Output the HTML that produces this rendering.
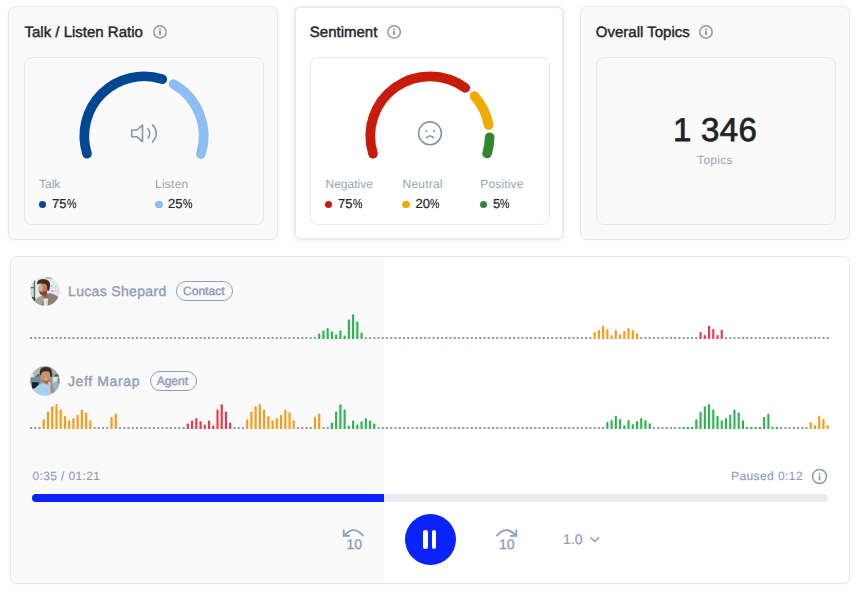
<!DOCTYPE html>
<html lang="en">
<head>
<meta charset="utf-8">
<title>Call analytics</title>
<style>
  html, body { margin: 0; padding: 0; }
  body {
    width: 856px; height: 592px; overflow: hidden; position: relative;
    background: #ffffff;
    font-family: "Liberation Sans", sans-serif;
    color: #22262b;
    text-rendering: geometricPrecision;
  }
  * { box-sizing: border-box; }
  .card {
    position: absolute; top: 6px; width: 270px; height: 234px;
    border: 1px solid #e6e8ef; border-radius: 7px; background: #fafafa;
    box-shadow: 0 1px 3px rgba(40, 50, 90, .04);
  }
  .card.c1 { left: 8px; }
  .card.c2 { left: 294px; background: #ffffff; border-color: #e7e9f0; box-shadow: inset 0 0 0 1px #eaecf2, 0 1px 4px rgba(40, 50, 90, .07); }
  .card.c3 { left: 580px; }
  .card h3 {
    position: absolute; left: 15.5px; top: 16px; margin: 0;
    font-size: 15px; line-height: 20px; font-weight: 400; white-space: nowrap;
    color: #22262b; -webkit-text-stroke: 0.42px #22262b;
  }
  .inner {
    position: absolute; left: 15px; top: 50px; width: 240px; height: 168px;
    border: 1px solid #e7e9f0; border-radius: 8px; background: inherit;
  }
  .c1 .inner, .c3 .inner { background: #fafafa; }
  .c2 .inner { background: #ffffff; }
  .card svg.g { position: absolute; left: 0; top: 0; }
  .lab {
    position: absolute; top: 169px; font-size: 12px; line-height: 16px; color: #99a4b8; white-space: nowrap;
  }
  .val {
    position: absolute; top: 188px; font-size: 13px; line-height: 18px; color: #22262b; white-space: nowrap;
    -webkit-text-stroke: 0.2px #22262b; letter-spacing: 0.05px;
  }
  .val b { font-weight: 400; display: inline-block; transform: scaleX(0.82); transform-origin: 0 50%; }
  .dot { position: absolute; top: 193.5px; width: 7.6px; height: 7.6px; border-radius: 50%; }
  .big {
    position: absolute; left: 0; width: 268px; top: 103px; text-align: center;
    font-size: 33px; line-height: 40px; color: #1f2327; -webkit-text-stroke: 0.75px #1f2327; white-space: pre; letter-spacing: 0.3px;
  }
  .sub {
    position: absolute; left: 0; width: 268px; top: 144.7px; text-align: center; letter-spacing: 0.3px;
    font-size: 12px; line-height: 16px; color: #99a4b8;
  }

  .player {
    position: absolute; left: 10px; top: 256px; width: 840px; height: 328px;
    border: 1px solid #e6e8ef; border-radius: 7px; background: #ffffff; overflow: hidden;
    box-shadow: 0 1px 3px rgba(40, 50, 90, .04);
  }
  .played { position: absolute; left: 0; top: 0; width: 373px; height: 326px; background: #fafafa; }
  .who { position: absolute; left: 0; height: 30px; }
  .who .name {
    position: absolute; left: 57px; top: 5.4px; font-size: 14px; line-height: 20px; white-space: nowrap;
    color: #8f9db8; -webkit-text-stroke: 0.4px #8f9db8;
  }
  .who .tag {
    position: absolute; top: 5px; height: 20px; border: 1px solid #8f9db8; border-radius: 10px;
    font-size: 12px; line-height: 18px; text-align: center; color: #8f9db8; -webkit-text-stroke: 0.45px #8f9db8;
    white-space: nowrap;
  }
  .who svg { position: absolute; left: 19px; top: 0; }
  .wave { position: absolute; left: -11px; }
  .time { position: absolute; top: 211px; font-size: 12px; line-height: 16px; color: #8f9db8; white-space: nowrap; -webkit-text-stroke: 0.15px #8f9db8; }
  .track { position: absolute; left: 21px; top: 237px; width: 796px; height: 8.4px; border-radius: 4.2px; background: #e9ebef; overflow: hidden; }
  .track b { position: absolute; left: 0; top: 0; height: 100%; width: 352px; background: #0a22fb; display: block; }
  .ctl { position: absolute; }
  .pause { left: 393.5px; top: 256.5px; width: 51px; height: 51px; border-radius: 50%; background: #0a22fb; }
  .pause i { position: absolute; top: 16px; width: 4.2px; height: 19px; border-radius: 2.1px; background: #fff; display: block; }
  .speed { left: 552px; top: 272px; font-size: 14px; line-height: 20px; color: #8f9db8; -webkit-text-stroke: 0.2px #8f9db8; }
</style>
</head>
<body>

<section class="card c1">
  <h3>Talk / Listen Ratio</h3>
  <svg class="g" width="268" height="232" viewBox="9 7 268 232" fill="none">
    <circle cx="160" cy="31.9" r="6.2" stroke="#8b97ad" stroke-width="1.5"/>
    <rect x="159" y="28.7" width="2" height="1.3" fill="#8b97ad"/>
    <rect x="159" y="30.9" width="2" height="3.9" fill="#8b97ad"/>
  </svg>
  <div class="inner"></div>
  <svg class="g" width="268" height="232" viewBox="9 7 268 232" fill="none">
    <path d="M86.97 153.65 A59.7 59.7 0 0 1 162.25 79.16" stroke="#024794" stroke-width="9.7" stroke-linecap="round"/>
    <path d="M173.58 84.14 A59.7 59.7 0 0 1 200.91 154.05" stroke="#8cbdf3" stroke-width="9.7" stroke-linecap="round"/>
    <g stroke="#8794a8" stroke-width="1.6" stroke-linejoin="round">
      <path d="M131.7 130h5.3l5.5-5v16.8l-5.5-5h-5.3z"/>
      <path d="M148 128.7A7.2 7.2 0 0 1 148 138" stroke-linecap="round"/>
      <path d="M152.5 124.8A11.7 11.7 0 0 1 152.5 141.9" stroke-linecap="round"/>
    </g>
  </svg>
  <span class="lab" style="left:30px">Talk</span>
  <i class="dot" style="left:29.6px;background:#024794"></i>
  <span class="val" style="left:43px">75<b>%</b></span>
  <span class="lab" style="left:146px;letter-spacing:0.25px">Listen</span>
  <i class="dot" style="left:146.1px;background:#8cbdf3"></i>
  <span class="val" style="left:159px">25<b>%</b></span>
</section>

<section class="card c2">
  <h3 style="left:14.8px">Sentiment</h3>
  <svg class="g" width="268" height="232" viewBox="295 7 268 232" fill="none">
    <circle cx="394.1" cy="31.9" r="6.2" stroke="#8b97ad" stroke-width="1.5"/>
    <rect x="393.1" y="28.7" width="2" height="1.3" fill="#8b97ad"/>
    <rect x="393.1" y="30.9" width="2" height="3.9" fill="#8b97ad"/>
  </svg>
  <div class="inner"></div>
  <svg class="g" width="268" height="232" viewBox="295 7 268 232" fill="none">
    <path d="M372.97 153.65 A59.7 59.7 0 0 1 465.26 87.82" stroke="#c91b0a" stroke-width="9.7" stroke-linecap="round"/>
    <path d="M474.44 96.13 A59.7 59.7 0 0 1 488.66 124.92" stroke="#f0ab06" stroke-width="9.7" stroke-linecap="round"/>
    <path d="M489.69 137.25 A59.7 59.7 0 0 1 487.12 153.35" stroke="#33862c" stroke-width="9.7" stroke-linecap="round"/>
    <g stroke="#8794a8" stroke-width="1.6">
      <circle cx="430" cy="133.3" r="11.4"/>
      <path d="M426.6 137.6q3.4-3.2 6.8 0" stroke-linecap="round"/>
    </g>
    <rect x="425.4" y="130.1" width="1.8" height="1.8" fill="#8996a9"/>
    <rect x="433" y="130.1" width="1.8" height="1.8" fill="#8996a9"/>
  </svg>
  <span class="lab" style="left:30.5px">Negative</span>
  <i class="dot" style="left:29.9px;background:#c91b0a"></i>
  <span class="val" style="left:43px">75<b>%</b></span>
  <span class="lab" style="left:107.5px;letter-spacing:0.22px">Neutral</span>
  <i class="dot" style="left:107.2px;background:#f0ab06"></i>
  <span class="val" style="left:120.5px">20<b>%</b></span>
  <span class="lab" style="left:185.3px;letter-spacing:0.16px">Positive</span>
  <i class="dot" style="left:184.7px;background:#33862c"></i>
  <span class="val" style="left:198px">5<b>%</b></span>
</section>

<section class="card c3">
  <h3 style="left:14.8px">Overall Topics</h3>
  <svg class="g" width="268" height="232" viewBox="581 7 268 232" fill="none">
    <circle cx="706" cy="31.9" r="6.2" stroke="#8b97ad" stroke-width="1.5"/>
    <rect x="705" y="28.7" width="2" height="1.3" fill="#8b97ad"/>
    <rect x="705" y="30.9" width="2" height="3.9" fill="#8b97ad"/>
  </svg>
  <div class="inner"></div>
  <div class="big">1 346</div>
  <div class="sub">Topics</div>
</section>

<section class="player">
  <div class="played"></div>

  <div class="who" style="top:19px">
    <svg width="30" height="30" viewBox="0 0 30 30">
      <defs>
        <clipPath id="cp1"><circle cx="15" cy="15" r="14.7"/></clipPath>
        <filter id="bl1" x="-10%" y="-10%" width="120%" height="120%"><feGaussianBlur stdDeviation="0.55"/></filter>
      </defs>
      <g clip-path="url(#cp1)"><g filter="url(#bl1)">
        <rect x="-2" y="-2" width="34" height="34" fill="#e2eaf1"/>
        <rect x="16" y="1.2" width="7" height="1.8" fill="#a9beb9"/>
        <rect x="20.6" y="9" width="1.6" height="1.6" fill="#86c6c2"/>
        <rect x="24.8" y="9.8" width="1.6" height="1.6" fill="#9bd0cc"/>
        <rect x="24.8" y="14" width="1.6" height="1.6" fill="#a5d4d0"/>
        <rect x="21.4" y="14" width="1.8" height="1.8" fill="#d792ad"/>
        <rect x="27.6" y="11" width="3" height="8" fill="#f1d6d6"/>
        <rect x="-1" y="4" width="5.2" height="19" fill="#c7d6da"/>
        <rect x="3.9" y="4" width="1.2" height="19" fill="#4f686a"/>
        <rect x="-1" y="11.1" width="5" height="1.2" fill="#4f686a"/>
        <ellipse cx="3.4" cy="23.2" rx="2.2" ry="2.4" fill="#2f6b2c"/>
        <path d="M4 32 L5.5 24.4 Q8 21 12.6 19.8 L16 21 L19 16.8 Q24 18 27.8 20.6 L31 32 Z" fill="#8d7f77"/>
        <path d="M5.5 24.4 Q8 21 12.6 19.8 L14 23 L10 31 L4 31 Z" fill="#aca19a"/>
        <path d="M13.4 22.6 L18 22.2 L17.6 30 L14 30 Z" fill="#e9dfd8"/>
        <path d="M13.6 18.6 L17.6 17 L17.8 21.6 L14.6 22.4 Z" fill="#9a5a3e"/>
        <ellipse cx="12.8" cy="13.2" rx="4.3" ry="6.1" fill="#bf7d5d"/>
        <ellipse cx="10.8" cy="11.6" rx="2.2" ry="3.6" fill="#dba888"/>
        <path d="M9.6 15.6 Q12 17 16.8 14.6 L17 17.5 Q14 21.5 10.8 18.8 Z" fill="#7a4530"/>
        <path d="M7.1 8.4 Q6.6 3.2 13 3 Q20.4 3 20 9.5 Q19.9 13.5 18.6 15 Q17.4 15.4 17 14 Q17.6 9.8 15.2 8 Q11 7 7.1 8.4 Z" fill="#46291f"/>
      </g></g>
    </svg>
    <span class="name" style="letter-spacing:0.34px">Lucas Shepard</span>
    <span class="tag" style="left:165.3px;width:56.5px;padding-right:1.5px">Contact</span>
  </div>
  <svg class="wave" style="top:42px" width="856" height="42" viewBox="0 299 856 42">
<defs><clipPath id="wc339"><rect x="0" y="299" width="856" height="40"/></clipPath></defs>
<g fill="#8d9bb7"><rect x="30.00" y="337.00" width="2.1" height="2"/><rect x="34.24" y="337.00" width="2.1" height="2"/><rect x="38.48" y="337.00" width="2.1" height="2"/><rect x="42.71" y="337.00" width="2.1" height="2"/><rect x="46.95" y="337.00" width="2.1" height="2"/><rect x="51.19" y="337.00" width="2.1" height="2"/><rect x="55.42" y="337.00" width="2.1" height="2"/><rect x="59.66" y="337.00" width="2.1" height="2"/><rect x="63.90" y="337.00" width="2.1" height="2"/><rect x="68.14" y="337.00" width="2.1" height="2"/><rect x="72.38" y="337.00" width="2.1" height="2"/><rect x="76.61" y="337.00" width="2.1" height="2"/><rect x="80.85" y="337.00" width="2.1" height="2"/><rect x="85.09" y="337.00" width="2.1" height="2"/><rect x="89.32" y="337.00" width="2.1" height="2"/><rect x="93.56" y="337.00" width="2.1" height="2"/><rect x="97.80" y="337.00" width="2.1" height="2"/><rect x="102.04" y="337.00" width="2.1" height="2"/><rect x="106.27" y="337.00" width="2.1" height="2"/><rect x="110.51" y="337.00" width="2.1" height="2"/><rect x="114.75" y="337.00" width="2.1" height="2"/><rect x="118.99" y="337.00" width="2.1" height="2"/><rect x="123.22" y="337.00" width="2.1" height="2"/><rect x="127.46" y="337.00" width="2.1" height="2"/><rect x="131.70" y="337.00" width="2.1" height="2"/><rect x="135.94" y="337.00" width="2.1" height="2"/><rect x="140.18" y="337.00" width="2.1" height="2"/><rect x="144.41" y="337.00" width="2.1" height="2"/><rect x="148.65" y="337.00" width="2.1" height="2"/><rect x="152.89" y="337.00" width="2.1" height="2"/><rect x="157.12" y="337.00" width="2.1" height="2"/><rect x="161.36" y="337.00" width="2.1" height="2"/><rect x="165.60" y="337.00" width="2.1" height="2"/><rect x="169.84" y="337.00" width="2.1" height="2"/><rect x="174.07" y="337.00" width="2.1" height="2"/><rect x="178.31" y="337.00" width="2.1" height="2"/><rect x="182.55" y="337.00" width="2.1" height="2"/><rect x="186.79" y="337.00" width="2.1" height="2"/><rect x="191.03" y="337.00" width="2.1" height="2"/><rect x="195.26" y="337.00" width="2.1" height="2"/><rect x="199.50" y="337.00" width="2.1" height="2"/><rect x="203.74" y="337.00" width="2.1" height="2"/><rect x="207.97" y="337.00" width="2.1" height="2"/><rect x="212.21" y="337.00" width="2.1" height="2"/><rect x="216.45" y="337.00" width="2.1" height="2"/><rect x="220.69" y="337.00" width="2.1" height="2"/><rect x="224.92" y="337.00" width="2.1" height="2"/><rect x="229.16" y="337.00" width="2.1" height="2"/><rect x="233.40" y="337.00" width="2.1" height="2"/><rect x="237.64" y="337.00" width="2.1" height="2"/><rect x="241.88" y="337.00" width="2.1" height="2"/><rect x="246.11" y="337.00" width="2.1" height="2"/><rect x="250.35" y="337.00" width="2.1" height="2"/><rect x="254.59" y="337.00" width="2.1" height="2"/><rect x="258.82" y="337.00" width="2.1" height="2"/><rect x="263.06" y="337.00" width="2.1" height="2"/><rect x="267.30" y="337.00" width="2.1" height="2"/><rect x="271.54" y="337.00" width="2.1" height="2"/><rect x="275.77" y="337.00" width="2.1" height="2"/><rect x="280.01" y="337.00" width="2.1" height="2"/><rect x="284.25" y="337.00" width="2.1" height="2"/><rect x="288.49" y="337.00" width="2.1" height="2"/><rect x="292.72" y="337.00" width="2.1" height="2"/><rect x="296.96" y="337.00" width="2.1" height="2"/><rect x="301.20" y="337.00" width="2.1" height="2"/><rect x="305.44" y="337.00" width="2.1" height="2"/><rect x="309.68" y="337.00" width="2.1" height="2"/><rect x="313.91" y="337.00" width="2.1" height="2"/><rect x="364.76" y="337.00" width="2.1" height="2"/><rect x="369.00" y="337.00" width="2.1" height="2"/><rect x="373.24" y="337.00" width="2.1" height="2"/><rect x="377.47" y="337.00" width="2.1" height="2"/><rect x="381.71" y="337.00" width="2.1" height="2"/><rect x="385.95" y="337.00" width="2.1" height="2"/><rect x="390.19" y="337.00" width="2.1" height="2"/><rect x="394.43" y="337.00" width="2.1" height="2"/><rect x="398.66" y="337.00" width="2.1" height="2"/><rect x="402.90" y="337.00" width="2.1" height="2"/><rect x="407.14" y="337.00" width="2.1" height="2"/><rect x="411.38" y="337.00" width="2.1" height="2"/><rect x="415.61" y="337.00" width="2.1" height="2"/><rect x="419.85" y="337.00" width="2.1" height="2"/><rect x="424.09" y="337.00" width="2.1" height="2"/><rect x="428.32" y="337.00" width="2.1" height="2"/><rect x="432.56" y="337.00" width="2.1" height="2"/><rect x="436.80" y="337.00" width="2.1" height="2"/><rect x="441.04" y="337.00" width="2.1" height="2"/><rect x="445.27" y="337.00" width="2.1" height="2"/><rect x="449.51" y="337.00" width="2.1" height="2"/><rect x="453.75" y="337.00" width="2.1" height="2"/><rect x="457.99" y="337.00" width="2.1" height="2"/><rect x="462.22" y="337.00" width="2.1" height="2"/><rect x="466.46" y="337.00" width="2.1" height="2"/><rect x="470.70" y="337.00" width="2.1" height="2"/><rect x="474.94" y="337.00" width="2.1" height="2"/><rect x="479.17" y="337.00" width="2.1" height="2"/><rect x="483.41" y="337.00" width="2.1" height="2"/><rect x="487.65" y="337.00" width="2.1" height="2"/><rect x="491.89" y="337.00" width="2.1" height="2"/><rect x="496.12" y="337.00" width="2.1" height="2"/><rect x="500.36" y="337.00" width="2.1" height="2"/><rect x="504.60" y="337.00" width="2.1" height="2"/><rect x="508.84" y="337.00" width="2.1" height="2"/><rect x="513.08" y="337.00" width="2.1" height="2"/><rect x="517.31" y="337.00" width="2.1" height="2"/><rect x="521.55" y="337.00" width="2.1" height="2"/><rect x="525.79" y="337.00" width="2.1" height="2"/><rect x="530.02" y="337.00" width="2.1" height="2"/><rect x="534.26" y="337.00" width="2.1" height="2"/><rect x="538.50" y="337.00" width="2.1" height="2"/><rect x="542.74" y="337.00" width="2.1" height="2"/><rect x="546.98" y="337.00" width="2.1" height="2"/><rect x="551.21" y="337.00" width="2.1" height="2"/><rect x="555.45" y="337.00" width="2.1" height="2"/><rect x="559.69" y="337.00" width="2.1" height="2"/><rect x="563.92" y="337.00" width="2.1" height="2"/><rect x="568.16" y="337.00" width="2.1" height="2"/><rect x="572.40" y="337.00" width="2.1" height="2"/><rect x="576.64" y="337.00" width="2.1" height="2"/><rect x="580.88" y="337.00" width="2.1" height="2"/><rect x="585.11" y="337.00" width="2.1" height="2"/><rect x="589.35" y="337.00" width="2.1" height="2"/><rect x="640.20" y="337.00" width="2.1" height="2"/><rect x="644.44" y="337.00" width="2.1" height="2"/><rect x="648.67" y="337.00" width="2.1" height="2"/><rect x="652.91" y="337.00" width="2.1" height="2"/><rect x="657.15" y="337.00" width="2.1" height="2"/><rect x="661.39" y="337.00" width="2.1" height="2"/><rect x="665.62" y="337.00" width="2.1" height="2"/><rect x="669.86" y="337.00" width="2.1" height="2"/><rect x="674.10" y="337.00" width="2.1" height="2"/><rect x="678.34" y="337.00" width="2.1" height="2"/><rect x="682.57" y="337.00" width="2.1" height="2"/><rect x="686.81" y="337.00" width="2.1" height="2"/><rect x="691.05" y="337.00" width="2.1" height="2"/><rect x="695.29" y="337.00" width="2.1" height="2"/><rect x="724.95" y="337.00" width="2.1" height="2"/><rect x="729.19" y="337.00" width="2.1" height="2"/><rect x="733.42" y="337.00" width="2.1" height="2"/><rect x="737.66" y="337.00" width="2.1" height="2"/><rect x="741.90" y="337.00" width="2.1" height="2"/><rect x="746.14" y="337.00" width="2.1" height="2"/><rect x="750.38" y="337.00" width="2.1" height="2"/><rect x="754.61" y="337.00" width="2.1" height="2"/><rect x="758.85" y="337.00" width="2.1" height="2"/><rect x="763.09" y="337.00" width="2.1" height="2"/><rect x="767.32" y="337.00" width="2.1" height="2"/><rect x="771.56" y="337.00" width="2.1" height="2"/><rect x="775.80" y="337.00" width="2.1" height="2"/><rect x="780.04" y="337.00" width="2.1" height="2"/><rect x="784.27" y="337.00" width="2.1" height="2"/><rect x="788.51" y="337.00" width="2.1" height="2"/><rect x="792.75" y="337.00" width="2.1" height="2"/><rect x="796.99" y="337.00" width="2.1" height="2"/><rect x="801.23" y="337.00" width="2.1" height="2"/><rect x="805.46" y="337.00" width="2.1" height="2"/><rect x="809.70" y="337.00" width="2.1" height="2"/><rect x="813.94" y="337.00" width="2.1" height="2"/><rect x="818.17" y="337.00" width="2.1" height="2"/><rect x="822.41" y="337.00" width="2.1" height="2"/><rect x="826.65" y="337.00" width="2.1" height="2"/></g>
<g clip-path="url(#wc339)">
<g fill="#27b54c"><rect x="318.15" y="333.40" width="2.1" height="6.50" rx="0.9"/><rect x="322.39" y="330.40" width="2.1" height="9.50" rx="0.9"/><rect x="326.62" y="328.00" width="2.1" height="11.90" rx="0.9"/><rect x="330.86" y="331.30" width="2.1" height="8.60" rx="0.9"/><rect x="335.10" y="334.50" width="2.1" height="5.40" rx="0.9"/><rect x="339.34" y="330.40" width="2.1" height="9.50" rx="0.9"/><rect x="343.57" y="335.50" width="2.1" height="4.40" rx="0.9"/><rect x="347.81" y="319.60" width="2.1" height="20.30" rx="0.9"/><rect x="352.05" y="314.30" width="2.1" height="25.60" rx="0.9"/><rect x="356.29" y="321.60" width="2.1" height="18.30" rx="0.9"/><rect x="360.52" y="332.50" width="2.1" height="7.40" rx="0.9"/></g>
<g fill="#ff9711"><rect x="593.59" y="332.00" width="2.1" height="7.90" rx="0.9"/><rect x="597.82" y="330.00" width="2.1" height="9.90" rx="0.9"/><rect x="602.06" y="325.70" width="2.1" height="14.20" rx="0.9"/><rect x="606.30" y="329.00" width="2.1" height="10.90" rx="0.9"/><rect x="610.54" y="335.20" width="2.1" height="4.70" rx="0.9"/><rect x="614.77" y="330.00" width="2.1" height="9.90" rx="0.9"/><rect x="619.01" y="334.20" width="2.1" height="5.70" rx="0.9"/><rect x="623.25" y="331.00" width="2.1" height="8.90" rx="0.9"/><rect x="627.49" y="327.90" width="2.1" height="12.00" rx="0.9"/><rect x="631.73" y="330.00" width="2.1" height="9.90" rx="0.9"/><rect x="635.96" y="333.20" width="2.1" height="6.70" rx="0.9"/></g>
<g fill="#fb3047"><rect x="699.52" y="332.00" width="2.1" height="7.90" rx="0.9"/><rect x="703.76" y="335.00" width="2.1" height="4.90" rx="0.9"/><rect x="708.00" y="325.70" width="2.1" height="14.20" rx="0.9"/><rect x="712.24" y="328.90" width="2.1" height="11.00" rx="0.9"/><rect x="716.48" y="335.00" width="2.1" height="4.90" rx="0.9"/><rect x="720.71" y="329.70" width="2.1" height="10.20" rx="0.9"/></g>
</g>
  </svg>

  <div class="who" style="top:109px">
    <svg width="30" height="30" viewBox="0 0 30 30" style="top:-0.3px">
      <defs>
        <clipPath id="cp2"><circle cx="15" cy="15" r="14.7"/></clipPath>
        <filter id="bl2" x="-10%" y="-10%" width="120%" height="120%"><feGaussianBlur stdDeviation="0.55"/></filter>
      </defs>
      <g clip-path="url(#cp2)"><g filter="url(#bl2)">
        <rect x="-2" y="-2" width="34" height="34" fill="#959a93"/>
        <rect x="-2" y="-2" width="12" height="11" fill="#b4b7af"/>
        <rect x="22" y="-2" width="10" height="12" fill="#a7aba4"/>
        <rect x="-1" y="11.5" width="11.5" height="7" fill="#6d8ca3"/>
        <rect x="0.4" y="8.2" width="4.2" height="3" fill="#c5dde8"/>
        <rect x="5" y="10" width="5" height="1.2" fill="#a06a3a"/>
        <rect x="7.4" y="8.2" width="2" height="1.8" fill="#3a5a38"/>
        <rect x="2" y="16.2" width="6.6" height="6.2" fill="#1f2228"/>
        <rect x="22.6" y="11" width="5.4" height="4.8" fill="#cfe6e4"/>
        <rect x="24.8" y="8.4" width="3.6" height="2" fill="#2f5a3c"/>
        <rect x="27.4" y="12" width="4" height="5" fill="#7f8a8c"/>
        <path d="M2 32 L3.9 23.3 Q8 18.5 14.7 16.3 L22.8 15.7 Q27 16.5 29.5 18.4 L31 32 Z" fill="#a9d0ec"/>
        <path d="M23 17 Q27 17 29.5 18.4 L30 27 L24 27 Z" fill="#8ab8dc"/>
        <path d="M14.5 15 L18 15 L18.2 18.4 L14.4 18 Z" fill="#b07850"/>
        <ellipse cx="15.6" cy="10.2" rx="4.5" ry="5.7" fill="#c99070"/>
        <path d="M12 13.2 Q15.5 17.5 19.4 13.4 L19 15 Q15.6 17.8 12.4 15 Z" fill="#8a5a40"/>
        <rect x="14.6" y="12.4" width="2.4" height="0.9" fill="#f0dcd0"/>
        <path d="M9.6 8.8 Q9 1 16 1 Q22.4 1.2 21.8 7.5 Q21.7 10.5 20.6 11 Q20.4 6.8 18.6 5.6 Q14.5 4.4 11.8 6.6 Q11 8.6 10.8 9.4 Z" fill="#3a2a20"/>
        <rect x="20.3" y="6.5" width="2" height="4.4" rx="0.9" fill="#2a3038"/>
        <path d="M18.5 13.5 Q19.5 12.3 22 12.6 L22.4 17 L24.4 26.5 L20.8 27 L20.4 17.6 Z" fill="#c08560"/>
      </g></g>
    </svg>
    <span class="name" style="letter-spacing:0.62px">Jeff Marap</span>
    <span class="tag" style="left:139.4px;width:46.3px;padding-right:2.4px">Agent</span>
  </div>
  <svg class="wave" style="top:132px" width="856" height="42" viewBox="0 389 856 42">
<defs><clipPath id="wc429"><rect x="0" y="389" width="856" height="40"/></clipPath></defs>
<g fill="#8d9bb7"><rect x="30.00" y="427.00" width="2.1" height="2"/><rect x="34.24" y="427.00" width="2.1" height="2"/><rect x="38.48" y="427.00" width="2.1" height="2"/><rect x="93.56" y="427.00" width="2.1" height="2"/><rect x="97.80" y="427.00" width="2.1" height="2"/><rect x="102.04" y="427.00" width="2.1" height="2"/><rect x="106.27" y="427.00" width="2.1" height="2"/><rect x="118.99" y="427.00" width="2.1" height="2"/><rect x="123.22" y="427.00" width="2.1" height="2"/><rect x="127.46" y="427.00" width="2.1" height="2"/><rect x="131.70" y="427.00" width="2.1" height="2"/><rect x="135.94" y="427.00" width="2.1" height="2"/><rect x="140.18" y="427.00" width="2.1" height="2"/><rect x="144.41" y="427.00" width="2.1" height="2"/><rect x="148.65" y="427.00" width="2.1" height="2"/><rect x="152.89" y="427.00" width="2.1" height="2"/><rect x="157.12" y="427.00" width="2.1" height="2"/><rect x="161.36" y="427.00" width="2.1" height="2"/><rect x="165.60" y="427.00" width="2.1" height="2"/><rect x="169.84" y="427.00" width="2.1" height="2"/><rect x="174.07" y="427.00" width="2.1" height="2"/><rect x="178.31" y="427.00" width="2.1" height="2"/><rect x="182.55" y="427.00" width="2.1" height="2"/><rect x="233.40" y="427.00" width="2.1" height="2"/><rect x="237.64" y="427.00" width="2.1" height="2"/><rect x="241.88" y="427.00" width="2.1" height="2"/><rect x="296.96" y="427.00" width="2.1" height="2"/><rect x="301.20" y="427.00" width="2.1" height="2"/><rect x="305.44" y="427.00" width="2.1" height="2"/><rect x="309.68" y="427.00" width="2.1" height="2"/><rect x="322.39" y="427.00" width="2.1" height="2"/><rect x="326.62" y="427.00" width="2.1" height="2"/><rect x="377.47" y="427.00" width="2.1" height="2"/><rect x="381.71" y="427.00" width="2.1" height="2"/><rect x="385.95" y="427.00" width="2.1" height="2"/><rect x="390.19" y="427.00" width="2.1" height="2"/><rect x="394.43" y="427.00" width="2.1" height="2"/><rect x="398.66" y="427.00" width="2.1" height="2"/><rect x="402.90" y="427.00" width="2.1" height="2"/><rect x="407.14" y="427.00" width="2.1" height="2"/><rect x="411.38" y="427.00" width="2.1" height="2"/><rect x="415.61" y="427.00" width="2.1" height="2"/><rect x="419.85" y="427.00" width="2.1" height="2"/><rect x="424.09" y="427.00" width="2.1" height="2"/><rect x="428.32" y="427.00" width="2.1" height="2"/><rect x="432.56" y="427.00" width="2.1" height="2"/><rect x="436.80" y="427.00" width="2.1" height="2"/><rect x="441.04" y="427.00" width="2.1" height="2"/><rect x="445.27" y="427.00" width="2.1" height="2"/><rect x="449.51" y="427.00" width="2.1" height="2"/><rect x="453.75" y="427.00" width="2.1" height="2"/><rect x="457.99" y="427.00" width="2.1" height="2"/><rect x="462.22" y="427.00" width="2.1" height="2"/><rect x="466.46" y="427.00" width="2.1" height="2"/><rect x="470.70" y="427.00" width="2.1" height="2"/><rect x="474.94" y="427.00" width="2.1" height="2"/><rect x="479.17" y="427.00" width="2.1" height="2"/><rect x="483.41" y="427.00" width="2.1" height="2"/><rect x="487.65" y="427.00" width="2.1" height="2"/><rect x="491.89" y="427.00" width="2.1" height="2"/><rect x="496.12" y="427.00" width="2.1" height="2"/><rect x="500.36" y="427.00" width="2.1" height="2"/><rect x="504.60" y="427.00" width="2.1" height="2"/><rect x="508.84" y="427.00" width="2.1" height="2"/><rect x="513.08" y="427.00" width="2.1" height="2"/><rect x="517.31" y="427.00" width="2.1" height="2"/><rect x="521.55" y="427.00" width="2.1" height="2"/><rect x="525.79" y="427.00" width="2.1" height="2"/><rect x="530.02" y="427.00" width="2.1" height="2"/><rect x="534.26" y="427.00" width="2.1" height="2"/><rect x="538.50" y="427.00" width="2.1" height="2"/><rect x="542.74" y="427.00" width="2.1" height="2"/><rect x="546.98" y="427.00" width="2.1" height="2"/><rect x="551.21" y="427.00" width="2.1" height="2"/><rect x="555.45" y="427.00" width="2.1" height="2"/><rect x="559.69" y="427.00" width="2.1" height="2"/><rect x="563.92" y="427.00" width="2.1" height="2"/><rect x="568.16" y="427.00" width="2.1" height="2"/><rect x="572.40" y="427.00" width="2.1" height="2"/><rect x="576.64" y="427.00" width="2.1" height="2"/><rect x="580.88" y="427.00" width="2.1" height="2"/><rect x="585.11" y="427.00" width="2.1" height="2"/><rect x="589.35" y="427.00" width="2.1" height="2"/><rect x="593.59" y="427.00" width="2.1" height="2"/><rect x="597.82" y="427.00" width="2.1" height="2"/><rect x="602.06" y="427.00" width="2.1" height="2"/><rect x="652.91" y="427.00" width="2.1" height="2"/><rect x="657.15" y="427.00" width="2.1" height="2"/><rect x="661.39" y="427.00" width="2.1" height="2"/><rect x="665.62" y="427.00" width="2.1" height="2"/><rect x="669.86" y="427.00" width="2.1" height="2"/><rect x="674.10" y="427.00" width="2.1" height="2"/><rect x="678.34" y="427.00" width="2.1" height="2"/><rect x="780.04" y="427.00" width="2.1" height="2"/><rect x="784.27" y="427.00" width="2.1" height="2"/><rect x="788.51" y="427.00" width="2.1" height="2"/><rect x="792.75" y="427.00" width="2.1" height="2"/><rect x="796.99" y="427.00" width="2.1" height="2"/><rect x="801.23" y="427.00" width="2.1" height="2"/><rect x="805.46" y="427.00" width="2.1" height="2"/></g>
<g fill="#27b54c"><rect x="682.57" y="427.00" width="2.1" height="2"/><rect x="686.81" y="427.00" width="2.1" height="2"/><rect x="691.05" y="427.00" width="2.1" height="2"/><rect x="746.14" y="427.00" width="2.1" height="2"/><rect x="750.38" y="427.00" width="2.1" height="2"/><rect x="754.61" y="427.00" width="2.1" height="2"/><rect x="758.85" y="427.00" width="2.1" height="2"/><rect x="771.56" y="427.00" width="2.1" height="2"/><rect x="775.80" y="427.00" width="2.1" height="2"/></g>
<g clip-path="url(#wc429)">
<g fill="#27b54c"><rect x="330.86" y="422.50" width="2.1" height="7.40" rx="0.9"/><rect x="335.10" y="411.60" width="2.1" height="18.30" rx="0.9"/><rect x="339.34" y="404.30" width="2.1" height="25.60" rx="0.9"/><rect x="343.57" y="409.60" width="2.1" height="20.30" rx="0.9"/><rect x="347.81" y="425.50" width="2.1" height="4.40" rx="0.9"/><rect x="352.05" y="420.40" width="2.1" height="9.50" rx="0.9"/><rect x="356.29" y="424.50" width="2.1" height="5.40" rx="0.9"/><rect x="360.52" y="421.30" width="2.1" height="8.60" rx="0.9"/><rect x="364.76" y="418.00" width="2.1" height="11.90" rx="0.9"/><rect x="369.00" y="420.40" width="2.1" height="9.50" rx="0.9"/><rect x="373.24" y="423.40" width="2.1" height="6.50" rx="0.9"/><rect x="606.30" y="422.00" width="2.1" height="7.90" rx="0.9"/><rect x="610.54" y="420.00" width="2.1" height="9.90" rx="0.9"/><rect x="614.77" y="415.70" width="2.1" height="14.20" rx="0.9"/><rect x="619.01" y="419.00" width="2.1" height="10.90" rx="0.9"/><rect x="623.25" y="425.20" width="2.1" height="4.70" rx="0.9"/><rect x="627.49" y="420.00" width="2.1" height="9.90" rx="0.9"/><rect x="631.73" y="424.20" width="2.1" height="5.70" rx="0.9"/><rect x="635.96" y="421.00" width="2.1" height="8.90" rx="0.9"/><rect x="640.20" y="417.90" width="2.1" height="12.00" rx="0.9"/><rect x="644.44" y="420.00" width="2.1" height="9.90" rx="0.9"/><rect x="648.67" y="423.20" width="2.1" height="6.70" rx="0.9"/><rect x="695.29" y="419.20" width="2.1" height="10.70" rx="0.9"/><rect x="699.52" y="411.50" width="2.1" height="18.40" rx="0.9"/><rect x="703.76" y="406.30" width="2.1" height="23.60" rx="0.9"/><rect x="708.00" y="404.00" width="2.1" height="25.90" rx="0.9"/><rect x="712.24" y="409.50" width="2.1" height="20.40" rx="0.9"/><rect x="716.48" y="415.90" width="2.1" height="14.00" rx="0.9"/><rect x="720.71" y="420.20" width="2.1" height="9.70" rx="0.9"/><rect x="724.95" y="418.00" width="2.1" height="11.90" rx="0.9"/><rect x="729.19" y="414.70" width="2.1" height="15.20" rx="0.9"/><rect x="733.42" y="409.50" width="2.1" height="20.40" rx="0.9"/><rect x="737.66" y="412.40" width="2.1" height="17.50" rx="0.9"/><rect x="741.90" y="420.20" width="2.1" height="9.70" rx="0.9"/><rect x="763.09" y="416.90" width="2.1" height="13.00" rx="0.9"/><rect x="767.32" y="413.60" width="2.1" height="16.30" rx="0.9"/></g>
<g fill="#ff9711"><rect x="42.71" y="419.20" width="2.1" height="10.70" rx="0.9"/><rect x="46.95" y="411.50" width="2.1" height="18.40" rx="0.9"/><rect x="51.19" y="406.30" width="2.1" height="23.60" rx="0.9"/><rect x="55.42" y="404.00" width="2.1" height="25.90" rx="0.9"/><rect x="59.66" y="409.50" width="2.1" height="20.40" rx="0.9"/><rect x="63.90" y="415.90" width="2.1" height="14.00" rx="0.9"/><rect x="68.14" y="420.20" width="2.1" height="9.70" rx="0.9"/><rect x="72.38" y="418.00" width="2.1" height="11.90" rx="0.9"/><rect x="76.61" y="414.70" width="2.1" height="15.20" rx="0.9"/><rect x="80.85" y="409.50" width="2.1" height="20.40" rx="0.9"/><rect x="85.09" y="412.40" width="2.1" height="17.50" rx="0.9"/><rect x="89.32" y="420.20" width="2.1" height="9.70" rx="0.9"/><rect x="110.51" y="416.90" width="2.1" height="13.00" rx="0.9"/><rect x="114.75" y="413.60" width="2.1" height="16.30" rx="0.9"/><rect x="246.11" y="419.20" width="2.1" height="10.70" rx="0.9"/><rect x="250.35" y="411.50" width="2.1" height="18.40" rx="0.9"/><rect x="254.59" y="406.30" width="2.1" height="23.60" rx="0.9"/><rect x="258.82" y="404.00" width="2.1" height="25.90" rx="0.9"/><rect x="263.06" y="409.50" width="2.1" height="20.40" rx="0.9"/><rect x="267.30" y="415.90" width="2.1" height="14.00" rx="0.9"/><rect x="271.54" y="420.20" width="2.1" height="9.70" rx="0.9"/><rect x="275.77" y="418.00" width="2.1" height="11.90" rx="0.9"/><rect x="280.01" y="414.70" width="2.1" height="15.20" rx="0.9"/><rect x="284.25" y="409.50" width="2.1" height="20.40" rx="0.9"/><rect x="288.49" y="412.40" width="2.1" height="17.50" rx="0.9"/><rect x="292.72" y="420.20" width="2.1" height="9.70" rx="0.9"/><rect x="313.91" y="416.90" width="2.1" height="13.00" rx="0.9"/><rect x="318.15" y="413.60" width="2.1" height="16.30" rx="0.9"/><rect x="809.70" y="422.00" width="2.1" height="7.90" rx="0.9"/><rect x="813.94" y="425.00" width="2.1" height="4.90" rx="0.9"/><rect x="818.17" y="415.70" width="2.1" height="14.20" rx="0.9"/><rect x="822.41" y="418.90" width="2.1" height="11.00" rx="0.9"/><rect x="826.65" y="425.00" width="2.1" height="4.90" rx="0.9"/></g>
<g fill="#fb3047"><rect x="186.79" y="423.40" width="2.1" height="6.50" rx="0.9"/><rect x="191.03" y="420.40" width="2.1" height="9.50" rx="0.9"/><rect x="195.26" y="418.00" width="2.1" height="11.90" rx="0.9"/><rect x="199.50" y="421.30" width="2.1" height="8.60" rx="0.9"/><rect x="203.74" y="424.50" width="2.1" height="5.40" rx="0.9"/><rect x="207.97" y="420.40" width="2.1" height="9.50" rx="0.9"/><rect x="212.21" y="425.50" width="2.1" height="4.40" rx="0.9"/><rect x="216.45" y="409.60" width="2.1" height="20.30" rx="0.9"/><rect x="220.69" y="404.30" width="2.1" height="25.60" rx="0.9"/><rect x="224.92" y="411.60" width="2.1" height="18.30" rx="0.9"/><rect x="229.16" y="422.50" width="2.1" height="7.40" rx="0.9"/></g>
</g>
  </svg>

  <span class="time" style="left:21.5px;letter-spacing:0.36px">0:35 / 01:21</span>
  <span class="time" style="right:46px;letter-spacing:0.42px">Paused 0:12</span>
  <svg class="ctl" style="left:800px;top:211.4px" width="17" height="17" viewBox="811 468.4 17 17" fill="none">
    <circle cx="819.5" cy="476.9" r="7" stroke="#8b97ad" stroke-width="1.5"/>
    <rect x="818.7" y="473.4" width="1.6" height="1.5" fill="#8b97ad"/>
    <rect x="818.7" y="476" width="1.6" height="4.6" fill="#8b97ad"/>
  </svg>
  <div class="track"><b></b></div>

  <svg class="ctl" style="left:327px;top:267px" width="30" height="30" viewBox="338 524 30 30" fill="none">
    <path d="M343.7 529.4v6.5h6.3" stroke="#8f9db8" stroke-width="1.8"/>
    <path d="M344.3 535.6q9.7-11.4 19.3 0.6" stroke="#8f9db8" stroke-width="1.8"/>
    <text x="354.3" y="549" font-size="14" text-anchor="middle" fill="#8f9db8" stroke="#8f9db8" stroke-width="0.3">10</text>
  </svg>
  <div class="ctl pause"><i style="left:18.9px"></i><i style="left:27.4px"></i></div>
  <svg class="ctl" style="left:480px;top:267px" width="30" height="30" viewBox="491 524 30 30" fill="none">
    <path d="M516.3 529.4v6.5h-6.3" stroke="#8f9db8" stroke-width="1.8"/>
    <path d="M496.4 536.2q9.7-12 19.3-0.6" stroke="#8f9db8" stroke-width="1.8"/>
    <text x="506.8" y="549" font-size="14" text-anchor="middle" fill="#8f9db8" stroke="#8f9db8" stroke-width="0.3">10</text>
  </svg>
  <div class="ctl speed">1.0</div>
  <svg class="ctl" style="left:577px;top:277px" width="14" height="10" viewBox="588 534 14 10" fill="none">
    <path d="M590.4 537.2l4.3 4.2 4.3-4.2" stroke="#8f9db8" stroke-width="1.4"/>
  </svg>
</section>

</body>
</html>
